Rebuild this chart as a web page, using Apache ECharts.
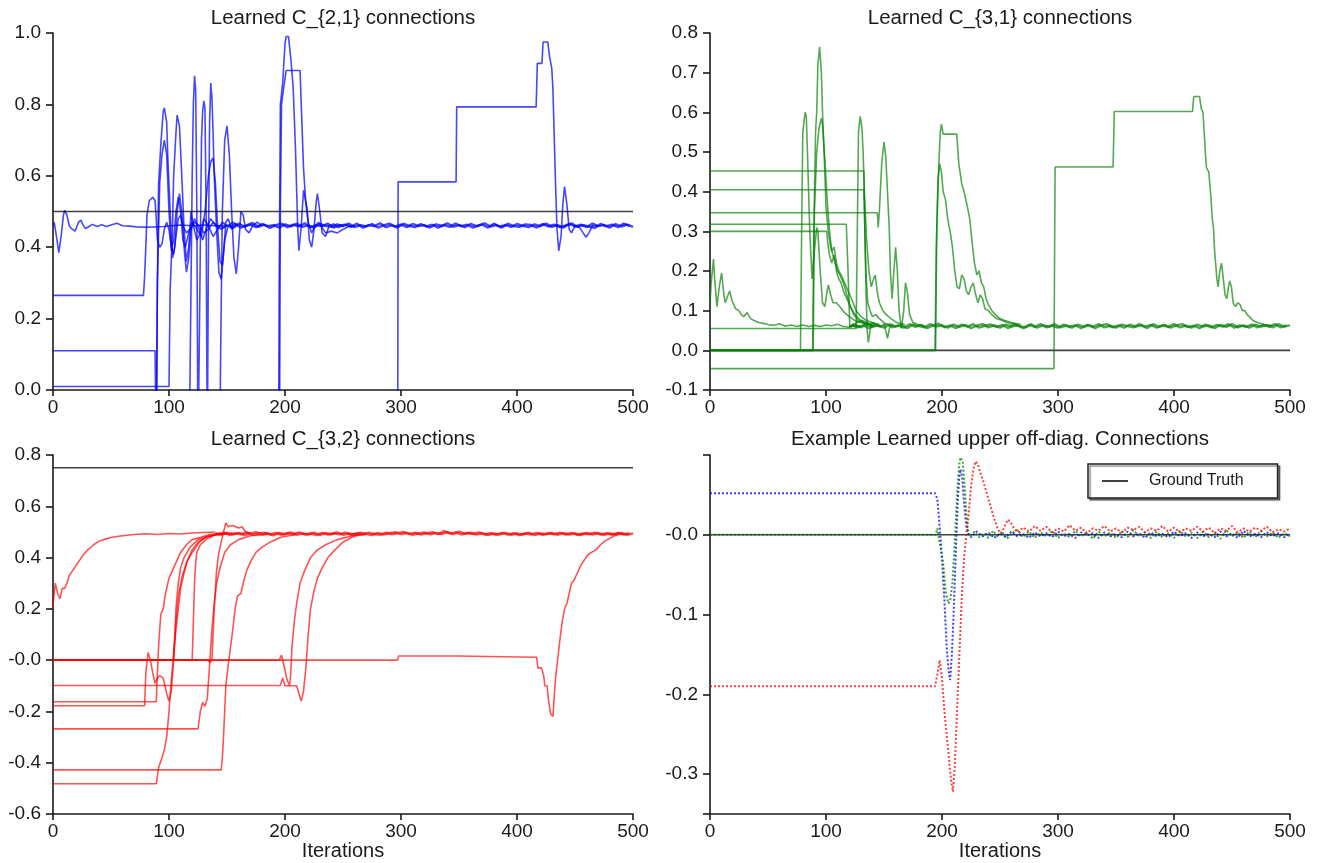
<!DOCTYPE html>
<html>
<head>
<meta charset="utf-8">
<script src="https://cdn.jsdelivr.net/npm/echarts@6/dist/echarts.min.js"></script>
<style>html,body{margin:0;padding:0;background:#fff}#c{width:1322px;height:863px}</style>
</head>
<body>
<div id="c"></div>
<script>
// ---------- tick labels ----------
const xTicks = [0, 100, 200, 300, 400, 500];
const xTickLabels = ['0', '100', '200', '300', '400', '500'];
const c21Ticks = [0, 0.2, 0.4, 0.6, 0.8, 1.0];
const c21TickLabels = ['0.0', '0.2', '0.4', '0.6', '0.8', '1.0'];
const c31Ticks = [-0.1, 0, 0.1, 0.2, 0.3, 0.4, 0.5, 0.6, 0.7, 0.8];
const c31TickLabels = ['-0.1', '0.0', '0.1', '0.2', '0.3', '0.4', '0.5', '0.6', '0.7', '0.8'];
const c32Ticks = [-0.6, -0.4, -0.2, 0, 0.2, 0.4, 0.6, 0.8];
const c32TickLabels = ['-0.6', '-0.4', '-0.2', '-0.0', '0.2', '0.4', '0.6', '0.8'];
const offTicks = [-0.3, -0.2, -0.1, 0];
const offTickLabels = ['-0.3', '-0.2', '-0.1', '-0.0'];

const titles = ['Learned C_{2,1} connections', 'Learned C_{3,1} connections',
                'Learned C_{3,2} connections', 'Example Learned upper off-diag. Connections'];
const xName = 'Iterations';
const legendName = 'Ground Truth';

// ---------- C_{2,1} (blue) ----------
const c21_truth = [[0,0.5],[500,0.5]];
const c21_a = [[0,0.46],[1,0.47],[3,0.43],[5,0.385],[7,0.43],[9,0.49],[10,0.503],[12,0.49],[14,0.46],[16,0.452],[19,0.445],[22,0.47],[24,0.476],[26,0.462],[28,0.452],[31,0.458],[34,0.464],[38,0.458],[42,0.463],[46,0.458],[50,0.462],[55,0.467],[60,0.46],[66,0.459],[72,0.457],[80,0.456],[88,0.457],[95,0.458],[102,0.46],[110,0.462],[120,0.46],[130,0.462],[140,0.46],[150,0.461]];
const c21_b = [[0,0.265],[78,0.265],[79,0.32],[80,0.4],[81,0.49],[83,0.53],[86,0.54],[88,0.53],[89,0.48],[90,0.42],[92,0.40],[94,0.41],[96,0.45],[98,0.47],[100,0.45],[102,0.4],[104,0.38],[106,0.43],[108,0.48],[110,0.49],[112,0.46],[115,0.44],[118,0.45],[122,0.47],[126,0.46],[130,0.44],[134,0.45],[138,0.47],[142,0.46],[146,0.455],[150,0.46]];
const c21_c = [[0,0.11],[88,0.11],[89,-0.2],[90,0.3],[91,0.575],[93,0.69],[95,0.78],[96,0.79],[98,0.75],[99,0.65],[101,0.5],[103,0.37],[105,0.40],[107,0.5],[109,0.55],[111,0.5],[113,0.40],[115,0.33],[117,0.37],[119,0.45],[122,0.48],[126,0.45],[129,0.42],[132,0.45],[136,0.48],[140,0.46],[145,0.45],[150,0.46]];
const c21_d = [[0,0.01],[100,0.01],[101,0.28],[103,0.45],[104,0.6],[106,0.72],[107,0.77],[109,0.74],[111,0.6],[113,0.45],[115,0.36],[117,0.4],[119,0.5],[121,0.46],[124,0.42],[127,0.44],[130,0.48],[134,0.46],[138,0.43],[142,0.45],[146,0.47],[150,0.46]];
const c21_e = [[0,-0.3],[117,-0.3],[119,0.3],[120,0.6],[121,0.8],[122,0.88],[123,0.84],[124,0.5],[125,-0.2],[127,0.4],[128,0.7],[129,0.78],[130,0.81],[131,0.79],[132,0.5],[133,-0.2],[134,0.4],[135,0.75],[136,0.86],[137,0.82],[138,0.72],[139,0.6],[141,0.45],[143,0.33],[145,0.31],[147,0.38],[149,0.47],[151,0.48],[154,0.45],[158,0.46]];
const c21_f = [[0,-0.5],[143,-0.5],[144.5,0.1],[146,0.5],[148,0.7],[150,0.74],[152,0.66],[154,0.5],[156,0.37],[158,0.325],[160,0.4],[162,0.5],[164,0.49],[166,0.45],[169,0.44],[172,0.46],[176,0.47],[180,0.46]];
const c21_g = [[0,-0.4],[88.5,-0.4],[90,0.3],[92,0.58],[94,0.66],[96,0.7],[98,0.66],[100,0.5],[102,0.39],[104,0.42],[106,0.5],[108,0.54],[110,0.5],[112,0.42],[114,0.4],[117,0.44],[120,0.47],[124,0.45],[128,0.43],[131,0.5],[134,0.6],[136,0.64],[138,0.65],[140,0.58],[142,0.45],[144,0.36],[146,0.35],[148,0.42],[151,0.46],[155,0.47],[160,0.46]];
const c21_h = [[0,-0.6],[194,-0.6],[195,0.3],[196,0.8],[198,0.86],[200,0.97],[201,0.99],[203,0.99],[205,0.93],[207,0.85],[209,0.68],[211,0.45],[212,0.39],[214,0.46],[216,0.56],[217,0.565],[219,0.51],[221,0.42],[223,0.40],[225,0.45],[227,0.53],[228,0.55],[230,0.5],[232,0.44],[235,0.43],[238,0.46],[242,0.465],[246,0.455],[250,0.46]];
const c21_i = [[0,-0.4],[195,-0.4],[196,0.5],[197,0.8],[199,0.85],[201,0.895],[213,0.895],[214,0.8],[216,0.62],[218,0.52],[220,0.47],[223,0.44],[226,0.46],[229,0.47],[232,0.455],[235,0.44],[240,0.445],[245,0.44],[250,0.45],[255,0.458],[260,0.46]];
const c21_j = [[0,-0.5],[297,-0.5],[297.5,0.583],[347.5,0.583],[348,0.793],[416.5,0.793],[417.5,0.915],[421.5,0.915],[422.5,0.975],[426.5,0.975],[428,0.935],[430,0.9],[431,0.84],[433,0.6],[434.5,0.45],[436,0.39],[438,0.43],[439.5,0.52],[441,0.57],[443,0.52],[445,0.45],[447,0.44],[450,0.46],[454,0.455],[457,0.44],[459.5,0.428],[462,0.44],[465,0.46],[470,0.46]];
const c21_bandA = [[150,0.462],[155,0.455],[160,0.466],[165,0.458],[170,0.463],[175,0.456],[180,0.465],[185,0.459],[190,0.462],[195,0.455],[200,0.464],[205,0.458],[210,0.466],[215,0.457],[220,0.461],[225,0.455],[230,0.465],[235,0.46],[240,0.457],[245,0.464],[250,0.459],[255,0.466],[260,0.456],[265,0.462],[270,0.458],[275,0.465],[280,0.455],[285,0.461],[290,0.466],[295,0.458],[300,0.463],[305,0.456],[310,0.465],[315,0.459],[320,0.462],[325,0.455],[330,0.464],[335,0.46],[340,0.467],[345,0.457],[350,0.462],[355,0.456],[360,0.465],[365,0.459],[370,0.463],[375,0.455],[380,0.466],[385,0.458],[390,0.462],[395,0.457],[400,0.465],[405,0.46],[410,0.456],[415,0.464],[420,0.459],[425,0.466],[430,0.457],[435,0.462],[440,0.455],[445,0.465],[450,0.458],[455,0.463],[460,0.456],[465,0.466],[470,0.459],[475,0.462],[480,0.455],[485,0.465],[490,0.458],[495,0.463],[500,0.457]];
const c21_bandB = [[152,0.457],[157,0.465],[162,0.455],[167,0.461],[172,0.468],[177,0.457],[182,0.463],[187,0.454],[192,0.462],[197,0.466],[202,0.456],[207,0.463],[212,0.458],[217,0.467],[222,0.456],[227,0.462],[232,0.459],[237,0.466],[242,0.455],[247,0.461],[252,0.463],[257,0.457],[262,0.466],[267,0.455],[272,0.462],[277,0.459],[282,0.467],[287,0.456],[292,0.461],[297,0.455],[302,0.466],[307,0.46],[312,0.456],[317,0.465],[322,0.458],[327,0.463],[332,0.455],[337,0.462],[342,0.457],[347,0.466],[352,0.459],[357,0.463],[362,0.455],[367,0.461],[372,0.467],[377,0.458],[382,0.462],[387,0.455],[392,0.466],[397,0.459],[402,0.457],[407,0.464],[412,0.462],[417,0.455],[422,0.465],[427,0.458],[432,0.463],[437,0.456],[442,0.461],[447,0.467],[452,0.457],[457,0.462],[462,0.458],[467,0.454],[472,0.465],[477,0.459],[482,0.463],[487,0.456],[492,0.466],[497,0.46]];

// ---------- C_{3,1} (green) ----------
const c31_truth = [[0,0],[500,0]];
const c31_a = [[0,0.12],[1,0.17],[3,0.23],[4,0.18],[6,0.11],[8,0.16],[10,0.195],[12,0.14],[13,0.12],[15,0.135],[17,0.15],[19,0.125],[22,0.105],[25,0.1],[27,0.09],[29,0.085],[32,0.095],[35,0.08],[38,0.075],[42,0.07],[46,0.068],[50,0.065],[55,0.063],[60,0.067],[65,0.061],[70,0.064],[75,0.06],[80,0.064],[85,0.06],[90,0.063],[95,0.06],[100,0.064],[105,0.062],[110,0.066],[115,0.06],[120,0.058],[125,0.062],[130,0.06]];
const c31_b = [[0,0],[78,0],[79,0.3],[80,0.55],[82,0.60],[83,0.59],[84,0.5],[86,0.3],[88,0.18],[90,0.25],[92,0.31],[93,0.3],[95,0.2],[97,0.12],[99,0.11],[101,0.15],[102,0.165],[104,0.14],[106,0.12],[109,0.12],[112,0.11],[116,0.095],[120,0.085],[125,0.075],[130,0.07],[136,0.065],[142,0.06]];
const c31_c = [[0,0],[88.5,0],[89.5,0.3],[91,0.55],[92,0.6],[93,0.72],[94.5,0.765],[96,0.7],[97,0.6],[99,0.45],[100,0.36],[102,0.3],[104,0.26],[106,0.24],[108,0.22],[110,0.2],[112,0.19],[115,0.17],[118,0.14],[121,0.11],[124,0.09],[128,0.075],[133,0.068],[140,0.062]];
const c31_d = [[0,0],[89,0],[90,0.35],[92,0.5],[94,0.56],[96,0.585],[97,0.57],[99,0.48],[101,0.38],[103,0.3],[105,0.25],[107,0.26],[109,0.22],[111,0.2],[113,0.19],[116,0.17],[119,0.15],[122,0.13],[126,0.1],[130,0.085],[135,0.075],[140,0.07],[146,0.065]];
const c31_e = [[0,0.30],[100.7,0.30],[101.5,0.27],[103,0.24],[105,0.22],[107,0.24],[109,0.2],[111,0.18],[113,0.17],[115,0.15],[118,0.13],[121,0.11],[124,0.095],[128,0.08],[133,0.07],[140,0.065]];
const c31_f = [[0,0.318],[117.5,0.318],[119,0.2],[120.5,0.06],[123,0.065],[127,0.07],[131,0.075],[135,0.07],[140,0.065]];
const c31_g = [[0,0.055],[126,0.055],[127,0.3],[128,0.55],[129.5,0.59],[131,0.56],[132,0.5],[133,0.4],[135,0.28],[137,0.2],[139,0.16],[141,0.18],[142.5,0.19],[144,0.15],[146,0.12],[149,0.1],[152,0.09],[156,0.08],[161,0.07],[168,0.065]];
const c31_h = [[0,0.452],[132.7,0.452],[133.5,0.3],[134.5,0.15],[135.5,0.05],[136.5,0.02],[138,0.05],[140,0.07],[143,0.065],[147,0.06]];
const c31_i = [[0,0.405],[132.7,0.405],[133.5,0.3],[134.5,0.19],[136,0.12],[138,0.1],[140,0.085],[143,0.09],[146,0.08],[150,0.07],[153,0.03],[155,0.06],[158,0.065]];
const c31_j = [[0,0.347],[144.3,0.347],[145,0.31],[146,0.35],[148,0.47],[150,0.525],[151.5,0.49],[153,0.4],[154.5,0.31],[155.5,0.2],[157,0.13],[158.5,0.2],[160,0.26],[161.5,0.2],[163,0.1],[165,0.055],[167,0.1],[168.5,0.17],[170,0.15],[172,0.09],[175,0.07],[179,0.065],[185,0.062]];
const c31_k = [[0,0],[194.5,0],[195.5,0.3],[197,0.45],[198.5,0.55],[199.5,0.57],[201,0.545],[212.7,0.545],[214.5,0.47],[217,0.42],[219,0.4],[222,0.36],[224,0.33],[226,0.27],[228,0.22],[230,0.19],[232,0.2],[234,0.17],[236,0.16],[238,0.13],[240,0.115],[243,0.1],[246,0.09],[250,0.08],[254,0.075],[260,0.07],[268,0.065]];
const c31_l = [[0,0],[194,0],[195,0.25],[196.5,0.43],[198,0.47],[199.5,0.45],[201,0.4],[203,0.38],[205,0.33],[207,0.3],[209,0.26],[211,0.2],[213,0.16],[215,0.155],[217,0.19],[219,0.18],[221,0.15],[223,0.14],[225,0.16],[227,0.17],[229,0.14],[231,0.12],[233,0.14],[235,0.13],[237,0.105],[240,0.1],[243,0.09],[247,0.08],[252,0.075],[258,0.068],[265,0.065]];
const c31_m = [[0,-0.046],[296.5,-0.046],[297.5,0.462],[347.5,0.462],[348.5,0.602],[416,0.602],[417,0.64],[422,0.64],[423.5,0.61],[425,0.6],[426,0.55],[427,0.5],[428,0.46],[430,0.45],[432,0.38],[433,0.33],[434,0.31],[435,0.25],[437,0.18],[438,0.16],[439.5,0.2],[441,0.22],[442.5,0.18],[444,0.14],[445.5,0.13],[447,0.16],[448,0.175],[449.5,0.16],[451,0.12],[453,0.11],[455,0.12],[457,0.115],[459,0.1],[461,0.1],[463,0.09],[465,0.085],[468,0.075],[472,0.07],[478,0.065],[485,0.062]];
const c31_bandA = [[120,0.06],[125,0.064],[130,0.058],[135,0.066],[140,0.059],[145,0.063],[150,0.057],[155,0.066],[160,0.06],[165,0.064],[170,0.056],[175,0.065],[180,0.061],[185,0.058],[190,0.066],[195,0.06],[200,0.063],[205,0.057],[210,0.065],[215,0.059],[220,0.064],[225,0.056],[230,0.062],[235,0.066],[240,0.058],[245,0.063],[250,0.057],[255,0.065],[260,0.06],[265,0.063],[270,0.056],[275,0.064],[280,0.059],[285,0.066],[290,0.058],[295,0.062],[300,0.057],[305,0.065],[310,0.06],[315,0.063],[320,0.056],[325,0.064],[330,0.059],[335,0.066],[340,0.058],[345,0.062],[350,0.057],[355,0.065],[360,0.061],[365,0.058],[370,0.066],[375,0.06],[380,0.064],[385,0.057],[390,0.063],[395,0.059],[400,0.066],[405,0.058],[410,0.062],[415,0.057],[420,0.065],[425,0.06],[430,0.063],[435,0.056],[440,0.064],[445,0.059],[450,0.066],[455,0.058],[460,0.063],[465,0.057],[470,0.065],[475,0.06],[480,0.063],[485,0.058],[490,0.066],[495,0.06],[500,0.063]];
const c31_bandB = [[122,0.065],[127,0.058],[132,0.063],[137,0.056],[142,0.065],[147,0.06],[152,0.067],[157,0.058],[162,0.063],[167,0.057],[172,0.066],[177,0.059],[182,0.064],[187,0.056],[192,0.062],[197,0.067],[202,0.058],[207,0.063],[212,0.056],[217,0.065],[222,0.06],[227,0.066],[232,0.057],[237,0.062],[242,0.065],[247,0.059],[252,0.064],[257,0.056],[262,0.065],[267,0.061],[272,0.058],[277,0.066],[282,0.057],[287,0.063],[292,0.06],[297,0.066],[302,0.058],[307,0.062],[312,0.057],[317,0.065],[322,0.059],[327,0.064],[332,0.056],[337,0.063],[342,0.066],[347,0.058],[352,0.063],[357,0.057],[362,0.065],[367,0.06],[372,0.063],[377,0.056],[382,0.066],[387,0.059],[392,0.064],[397,0.057],[402,0.063],[407,0.066],[412,0.059],[417,0.062],[422,0.056],[427,0.065],[432,0.058],[437,0.064],[442,0.06],[447,0.066],[452,0.057],[457,0.063],[462,0.059],[467,0.065],[472,0.058],[477,0.064],[482,0.06],[487,0.066],[492,0.058],[497,0.063]];

// ---------- C_{3,2} (red) ----------
const c32_truth = [[0,0.75],[500,0.75]];
const c32_a = [[0,0.21],[1,0.26],[2,0.30],[4,0.26],[6,0.24],[8,0.28],[10,0.28],[12,0.3],[14,0.33],[17,0.35],[20,0.37],[23,0.39],[26,0.41],[30,0.43],[35,0.45],[40,0.465],[45,0.472],[50,0.478],[55,0.482],[60,0.485],[70,0.49],[80,0.493],[90,0.49],[100,0.494],[110,0.492],[120,0.496],[130,0.498],[140,0.5]];
const c32_b = [[0,-0.178],[79,-0.178],[80,-0.05],[82,0.03],[84,0.0],[86,-0.05],[88,-0.09],[90,-0.07],[92,-0.06],[95,-0.07],[98,-0.13],[100,-0.16],[102,-0.12],[104,0.0],[106,0.15],[108,0.25],[111,0.32],[115,0.38],[120,0.42],[126,0.46],[132,0.48],[140,0.49],[150,0.495]];
const c32_c = [[0,-0.162],[89,-0.162],[90,-0.05],[91,0.05],[92,0.12],[93,0.18],[95,0.2],[97,0.26],[100,0.32],[103,0.35],[106,0.38],[110,0.42],[115,0.45],[120,0.47],[128,0.48],[135,0.49],[145,0.495]];
const c32_d = [[0,-0.482],[89,-0.482],[91,-0.42],[94,-0.38],[96,-0.35],[98,-0.3],[100,-0.2],[102,-0.08],[104,0.03],[106,0.12],[108,0.2],[110,0.28],[113,0.34],[116,0.39],[120,0.43],[125,0.46],[132,0.48],[142,0.49],[155,0.495]];
const c32_e = [[0,-0.268],[125,-0.268],[127,-0.2],[129,-0.165],[131,-0.18],[133,-0.15],[135,-0.02],[137,0.12],[139,0.22],[141,0.3],[144,0.36],[148,0.42],[153,0.45],[160,0.47],[170,0.485],[185,0.49]];
const c32_f = [[0,-0.428],[145,-0.428],[146,-0.38],[147,-0.3],[148,-0.2],[149,-0.1],[151,-0.02],[153,0.05],[155,0.12],[157,0.2],[159,0.25],[162,0.26],[164,0.3],[167,0.35],[171,0.39],[175,0.42],[180,0.44],[187,0.46],[197,0.48],[210,0.49]];
const c32_g = [[0,0],[120,0],[121,0.15],[122,0.3],[123,0.38],[124,0.42],[127,0.45],[132,0.47],[140,0.49],[150,0.495]];
const c32_h = [[0,0],[134,0],[135,-0.01],[137,0.0],[139,0.2],[141,0.35],[143,0.42],[145,0.46],[147,0.5],[149,0.535],[151,0.52],[155,0.525],[160,0.515],[163,0.52],[166,0.5],[170,0.495]];
const c32_i = [[0,0],[104,0],[105,0.1],[106,0.2],[108,0.3],[110,0.36],[113,0.4],[118,0.44],[125,0.47],[135,0.485],[150,0.495]];
const c32_j = [[0,0],[195,0],[197,0.02],[199,-0.02],[202,-0.08],[204,-0.1],[205,-0.05],[206,0.05],[208,0.15],[210,0.22],[213,0.3],[217,0.35],[222,0.4],[228,0.43],[235,0.45],[245,0.47],[258,0.485],[270,0.49]];
const c32_k = [[0,-0.099],[196,-0.099],[198,-0.07],[200,-0.1],[210,-0.1],[212,-0.13],[214,-0.16],[216,-0.12],[218,-0.03],[220,0.1],[222,0.2],[225,0.27],[228,0.32],[232,0.36],[237,0.4],[243,0.43],[250,0.46],[258,0.48],[265,0.49]];
const c32_l = [[0,0],[297,0],[298,0.016],[348,0.016],[349,0.011],[417,0.011],[418,-0.03],[421,-0.03],[423,-0.06],[424,-0.1],[426,-0.1],[427,-0.15],[428,-0.18],[429,-0.21],[431,-0.22],[432,-0.15],[433,-0.08],[435,0.0],[437,0.08],[439,0.15],[441,0.2],[443,0.22],[445,0.26],[447,0.3],[449,0.31],[452,0.34],[455,0.37],[458,0.39],[461,0.41],[464,0.42],[468,0.43],[472,0.45],[476,0.465],[480,0.475],[484,0.485],[488,0.49],[492,0.493]];
const c32_bandA = [[140,0.495],[145,0.489],[150,0.497],[155,0.49],[160,0.496],[165,0.488],[170,0.494],[175,0.499],[180,0.49],[185,0.495],[190,0.487],[195,0.496],[200,0.491],[205,0.498],[210,0.489],[215,0.494],[220,0.49],[225,0.497],[230,0.488],[235,0.495],[240,0.491],[245,0.498],[250,0.489],[255,0.494],[260,0.49],[265,0.497],[270,0.492],[275,0.488],[280,0.496],[285,0.49],[290,0.495],[295,0.499],[300,0.491],[305,0.496],[310,0.489],[315,0.494],[320,0.498],[325,0.49],[330,0.496],[335,0.492],[340,0.499],[345,0.491],[350,0.501],[355,0.493],[360,0.497],[365,0.49],[370,0.495],[375,0.488],[380,0.494],[385,0.49],[390,0.496],[395,0.489],[400,0.494],[405,0.49],[410,0.497],[415,0.488],[420,0.494],[425,0.491],[430,0.496],[435,0.489],[440,0.495],[445,0.49],[450,0.494],[455,0.488],[460,0.496],[465,0.49],[470,0.495],[475,0.489],[480,0.494],[485,0.491],[490,0.496],[495,0.489],[500,0.494]];
const c32_bandB = [[142,0.49],[147,0.497],[152,0.488],[157,0.495],[162,0.491],[167,0.498],[172,0.489],[177,0.494],[182,0.497],[187,0.49],[192,0.496],[197,0.489],[202,0.495],[207,0.491],[212,0.498],[217,0.49],[222,0.494],[227,0.488],[232,0.496],[237,0.49],[242,0.495],[247,0.491],[252,0.497],[257,0.489],[262,0.495],[267,0.49],[272,0.497],[277,0.492],[282,0.489],[287,0.497],[292,0.491],[297,0.495],[302,0.5],[307,0.492],[312,0.497],[317,0.49],[322,0.495],[327,0.499],[332,0.491],[337,0.503],[342,0.494],[347,0.498],[352,0.49],[357,0.496],[362,0.492],[367,0.498],[372,0.49],[377,0.495],[382,0.489],[387,0.496],[392,0.49],[397,0.495],[402,0.488],[407,0.494],[412,0.49],[417,0.496],[422,0.489],[427,0.495],[432,0.491],[437,0.497],[442,0.49],[447,0.496],[452,0.489],[457,0.494],[462,0.491],[467,0.497],[472,0.49],[477,0.495],[482,0.489],[487,0.496],[492,0.49],[497,0.495]];

// ---------- upper off-diagonal example ----------
const off_truth = [[0,0],[500,0]];
const off_blue = [[0,0.052],[194,0.052],[196,0.045],[198,0.01],[200,-0.03],[202,-0.08],[204,-0.14],[206,-0.175],[207,-0.182],[208.5,-0.15],[210,-0.1],[212,-0.02],[213.5,0.04],[215,0.075],[216,0.082],[217.5,0.07],[219,0.04],[221,0.01],[223,0.0],[225,-0.003],[230,0.004],[235,-0.002],[240,0.003],[245,-0.004],[250,0.002],[255,-0.003],[260,0.004],[265,-0.002],[270,0.001],[275,-0.004],[280,0.003],[285,-0.002],[290,0.002],[295,-0.003],[300,0.004],[305,-0.002],[310,0.001],[315,-0.004],[320,0.003],[325,-0.001],[330,0.002],[335,-0.004],[340,0.003],[345,-0.002],[350,0.001],[355,-0.003],[360,0.004],[365,-0.002],[370,0.002],[375,-0.004],[380,0.003],[385,-0.002],[390,0.001],[395,-0.003],[400,0.004],[405,-0.002],[410,0.002],[415,-0.004],[420,0.003],[425,-0.002],[430,0.001],[435,-0.003],[440,0.004],[445,-0.002],[450,0.002],[455,-0.004],[460,0.005],[465,-0.002],[470,0.001],[475,-0.003],[480,0.003],[485,-0.002],[490,0.002],[495,-0.003],[500,0.002]];
const off_green = [[0,0],[194.5,0],[196,0.008],[198,-0.01],[201,-0.035],[203,-0.07],[205.5,-0.086],[207,-0.083],[209,-0.06],[211,-0.01],[213,0.05],[215,0.09],[216,0.097],[218,0.09],[220,0.05],[222,0.008],[224,-0.002],[228,0.004],[232,-0.003],[236,0.002],[240,-0.004],[244,0.005],[248,-0.002],[252,0.003],[256,-0.005],[260,0.002],[265,0.006],[270,-0.003],[275,0.004],[280,-0.004],[285,0.003],[290,-0.002],[295,0.005],[300,-0.004],[305,0.002],[310,-0.003],[315,0.005],[320,-0.002],[325,0.003],[330,-0.005],[335,0.004],[340,-0.002],[345,0.003],[350,-0.004],[355,0.005],[360,-0.003],[365,0.006],[370,-0.002],[375,0.003],[380,-0.004],[385,0.004],[390,-0.003],[395,0.002],[400,-0.004],[405,0.005],[410,-0.002],[415,0.003],[420,-0.004],[425,0.004],[430,-0.003],[435,0.002],[440,-0.005],[445,0.006],[450,-0.002],[455,0.003],[460,-0.004],[465,0.004],[470,-0.003],[475,0.005],[480,-0.002],[485,0.003],[490,-0.004],[495,0.002],[500,-0.002]];
const off_red = [[0,-0.19],[194,-0.19],[196,-0.175],[198,-0.157],[200,-0.18],[202,-0.22],[204,-0.25],[206,-0.28],[208,-0.31],[209.5,-0.322],[211,-0.29],[213,-0.22],[215,-0.15],[217,-0.08],[219,-0.03],[221,0.0],[223,0.025],[225,0.06],[227,0.082],[229,0.092],[231,0.088],[233,0.078],[236,0.065],[239,0.05],[242,0.035],[245,0.02],[248,0.008],[250,0.002],[252,0.004],[255,0.014],[257,0.019],[259,0.016],[262,0.008],[265,0.003],[270,0.009],[275,0.004],[280,0.011],[285,0.005],[290,0.01],[295,0.003],[300,0.008],[305,0.004],[310,0.012],[315,0.005],[320,0.009],[325,0.002],[330,0.008],[335,0.005],[340,0.011],[345,0.004],[350,0.008],[355,0.003],[360,0.009],[365,0.006],[370,0.01],[375,0.003],[380,0.008],[385,0.005],[390,0.011],[395,0.004],[400,0.009],[405,0.003],[410,0.008],[415,0.005],[420,0.01],[425,0.004],[430,0.009],[435,0.002],[440,0.008],[445,0.005],[450,0.011],[455,0.003],[460,0.008],[465,0.004],[470,0.009],[475,0.005],[480,0.01],[485,0.003],[490,0.007],[495,0.004],[500,0.008]];

// ---------- build ----------
const FONT = '"Liberation Sans", Arial, sans-serif';
const INK = '#1a1a1a';
const BLUE = 'rgba(0,0,255,0.72)';
const GREEN = 'rgba(0,128,0,0.68)';
const RED = 'rgba(255,0,0,0.68)';
const TRUTH = 'rgba(0,0,0,0.75)';

function lookup(ticks, labels) {
  return function (v) {
    for (let i = 0; i < ticks.length; i++) if (Math.abs(ticks[i] - v) < 1e-6) return labels[i];
    return '';
  };
}
function line(name, data, k, color, width, dash, z) {
  return {
    name: name, type: 'line', xAxisIndex: k, yAxisIndex: k, data: data,
    symbol: 'none', showSymbol: false, clip: true, silent: true, z: z || 2,
    lineStyle: { color: color, width: width, type: dash || 'solid' },
    itemStyle: { color: color }
  };
}
const axisLineStyle = { color: INK, width: 1.6 };
function xAx(k, named) {
  return {
    type: 'value', gridIndex: k, min: 0, max: 500, interval: 100,
    name: named ? xName : '', nameLocation: 'middle', nameGap: 25,
    nameTextStyle: { fontFamily: FONT, fontSize: 20, color: INK },
    axisLine: { onZero: false, lineStyle: axisLineStyle },
    axisTick: { length: 6, lineStyle: axisLineStyle },
    axisLabel: { fontFamily: FONT, fontSize: 19, color: INK, margin: 8, formatter: lookup(xTicks, xTickLabels) },
    splitLine: { show: false }
  };
}
function yAx(k, min, max, interval, ticks, labels) {
  const a = {
    type: 'value', gridIndex: k, min: min, max: max,
    axisLine: { onZero: false, lineStyle: axisLineStyle },
    axisTick: { length: 7, lineStyle: axisLineStyle },
    axisLabel: { fontFamily: FONT, fontSize: 19, color: INK, margin: 12, formatter: lookup(ticks, labels), showMinLabel: true, showMaxLabel: true },
    splitLine: { show: false }
  };
  if (interval != null) a.interval = interval; else a.splitNumber = 5;
  return a;
}

const series = [];
[c21_a, c21_b, c21_c, c21_d, c21_e, c21_f, c21_g, c21_h, c21_i, c21_j]
  .forEach(d => series.push(line('', d, 0, BLUE, 1.6)));
[c21_bandA, c21_bandB].forEach(d => series.push(line('', d, 0, BLUE, 2.4)));
series.push(line('', c21_truth, 0, TRUTH, 1.6, 'solid', 3));

series.push(line('', c31_truth, 1, TRUTH, 1.6, 'solid', 1));
[c31_a, c31_b, c31_c, c31_d, c31_e, c31_f, c31_g, c31_h, c31_i, c31_j, c31_k, c31_l, c31_m]
  .forEach(d => series.push(line('', d, 1, GREEN, 1.6)));
[c31_bandA, c31_bandB].forEach(d => series.push(line('', d, 1, GREEN, 2.4)));

[c32_a, c32_b, c32_c, c32_d, c32_e, c32_f, c32_g, c32_h, c32_i, c32_j, c32_k, c32_l]
  .forEach(d => series.push(line('', d, 2, RED, 1.6)));
[c32_bandA, c32_bandB].forEach(d => series.push(line('', d, 2, RED, 2.4)));
series.push(line('', c32_truth, 2, TRUTH, 1.6, 'solid', 3));

series.push(line(legendName, off_truth, 3, TRUTH, 1.6, 'solid', 1));
series.push(line('', off_blue, 3, 'rgba(0,0,255,0.75)', 2, [2, 2]));
series.push(line('', off_green, 3, 'rgba(0,128,0,0.75)', 2, [2, 2]));
series.push(line('', off_red, 3, 'rgba(255,0,0,0.75)', 2, [2, 2]));

const titlePos = [[343, 18], [1000, 18], [343, 439], [1000, 439]];
const graphics = titles.map((t, i) => ({
  type: 'text', x: titlePos[i][0], y: titlePos[i][1], silent: true,
  style: { text: t, font: '20.5px ' + FONT, fill: INK, textAlign: 'center', align: 'center', textVerticalAlign: 'middle', verticalAlign: 'middle' }
}));

const chart = echarts.init(document.getElementById('c'), null, { renderer: 'canvas' });
chart.setOption({
  animation: false,
  backgroundColor: '#fff',
  grid: [
    { left: 53, top: 33, width: 580, height: 357 },
    { left: 710, top: 33, width: 580, height: 357 },
    { left: 53, top: 455, width: 580, height: 359 },
    { left: 710, top: 455, width: 580, height: 359 }
  ],
  xAxis: [xAx(0, false), xAx(1, false), xAx(2, true), xAx(3, true)],
  yAxis: [
    yAx(0, 0, 1.0, 0.2, c21Ticks, c21TickLabels),
    yAx(1, -0.1, 0.8, 0.1, c31Ticks, c31TickLabels),
    yAx(2, -0.6, 0.8, 0.2, c32Ticks, c32TickLabels),
    yAx(3, -0.35, 0.1, null, offTicks, offTickLabels)
  ],
  legend: {
    data: [{ name: legendName, icon: 'rect' }], left: 1088, top: 464, orient: 'horizontal',
    itemWidth: 26, itemHeight: 2, padding: [9, 34, 9, 14],
    borderColor: '#222', borderWidth: 1.5, backgroundColor: '#fff',
    shadowColor: 'rgba(0,0,0,0.45)', shadowBlur: 1, shadowOffsetX: 2, shadowOffsetY: 2,
    textStyle: { fontFamily: FONT, fontSize: 16, color: INK, padding: [0, 0, 0, 16] },
    selectedMode: false
  },
  graphic: graphics,
  series: series
});
</script>
</body>
</html>
